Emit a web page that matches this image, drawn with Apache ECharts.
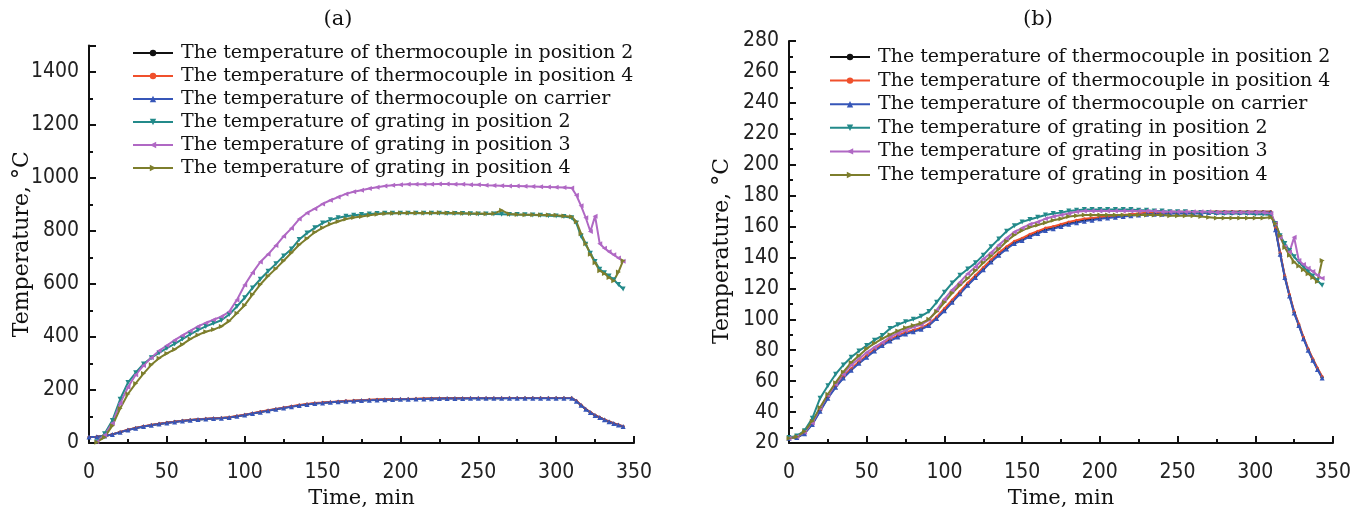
<!DOCTYPE html>
<html>
<head>
<meta charset="utf-8">
<script src="https://cdn.jsdelivr.net/npm/echarts@6/dist/echarts.min.js"></script>
<style>
html, body { margin: 0; padding: 0; background: #fff; }
#chart { width: 1366px; height: 514px; }
</style>
</head>
<body>
<div id="chart"></div>
<script>
// time, min
var times = [0, 5, 10, 15, 20, 25, 30, 35, 40, 45,
    50, 55, 60, 65, 70, 75, 80, 85, 90, 95,
    100, 105, 110, 115, 120, 125, 130, 135, 140, 145,
    150, 155, 160, 165, 170, 175, 180, 185, 190, 195,
    200, 205, 210, 215, 220, 225, 230, 235, 240, 245,
    250, 255, 260, 265, 270, 275, 280, 285, 290, 295,
    300, 305, 310, 313, 316, 319, 322, 325, 328, 331,
    334, 337, 340, 343];

// thermocouples (same in both panels)
var tcPos2 = [23, 23.5, 26.5, 32.5, 41, 49.5, 56.5, 62.5, 67.5, 72,
    76, 80, 83.5, 86.5, 89, 91, 92.5, 94, 96.5, 101,
    106, 111.5, 117, 122.5, 127.5, 132.5, 137.5, 142, 146, 149.5,
    151.5, 154, 156, 158, 159, 160.5, 162, 163, 164, 164.5,
    165.5, 166, 166.5, 167, 167.5, 168, 168.5, 168.5, 168.5, 169,
    169, 169, 169, 169, 169.5, 169.5, 169.5, 169.5, 169.5, 169.5,
    169.5, 169.5, 169.5, 158.5, 142.5, 127.5, 115.5, 104.5, 96.5, 88,
    80.5, 74, 68, 62.5];
var tcPos4 = [23, 23.5, 26.5, 32.5, 41.5, 50, 57, 63, 68, 72.5,
    76.5, 80.5, 84, 87, 89.5, 91.5, 93, 94.5, 97, 101.5,
    107, 112.5, 118, 123.5, 128.5, 133.5, 138.5, 143, 147, 150.5,
    152.5, 155, 157, 159, 160, 161.5, 163, 164, 165, 165.5,
    166, 166.5, 167, 167.5, 168, 168.5, 169, 169, 169, 169.5,
    169.5, 169.5, 169.5, 169.5, 169.5, 169.5, 169.5, 169.5, 169.5, 169.5,
    169.5, 169.5, 169.5, 159, 143, 128, 116, 105, 97, 88.5,
    81, 74.5, 68.5, 63];
var tcCarrier = [23, 23.5, 26, 32, 40.5, 49, 56, 62, 67, 71.5,
    75.5, 79.5, 83, 86, 88.5, 90.5, 92, 93.5, 96, 100.5,
    105.5, 111, 116.5, 122, 127, 132, 137, 141.5, 145.5, 149,
    151, 153.5, 155.5, 157.5, 158.5, 160, 161.5, 162.5, 163.5, 164,
    165, 165.5, 166, 166.5, 167, 167.5, 168, 168, 168, 168.5,
    168.5, 168.5, 168.5, 168.5, 169, 169, 169, 169, 169, 169,
    169, 169, 169, 158, 142, 127, 115, 104, 96, 87.5,
    80, 73.5, 67.5, 62];

// gratings, panel (a)
var gr2A = [null, 5, 35, 85, 165, 228, 265, 298, 322, 340,
    358, 374, 392, 410, 426, 440, 452, 463, 485, 515,
    548, 585, 618, 648, 676, 706, 732, 768, 792, 812,
    830, 842, 850, 856, 859, 862, 864, 866, 867, 867,
    867, 867, 867, 867, 867, 867, 866, 866, 866, 865,
    864, 864, 864, 863, 862, 862, 861, 860, 859, 858,
    857, 855, 850, 830, 780, 750, 716, 685, 656, 642,
    630, 616, 598, 581];
var gr3A = [null, 5, 30, 75, 150, 210, 258, 292, 322, 348,
    368, 388, 406, 423, 440, 453, 465, 477, 495, 540,
    596, 642, 683, 712, 745, 780, 810, 845, 868, 884,
    902, 916, 928, 940, 948, 954, 960, 965, 970, 973,
    975, 976, 976, 976, 976, 977, 977, 976, 976, 975,
    975, 973, 972, 971, 970, 970, 969, 968, 967, 966,
    965, 964, 962, 935, 895, 850, 798, 856, 752, 735,
    722, 710, 698, 686];
var gr4A = [null, 3, 22, 65, 130, 185, 225, 262, 295, 320,
    338, 353, 372, 392, 408, 420, 428, 440, 460, 490,
    520, 560, 598, 630, 658, 688, 718, 748, 772, 795,
    812, 826, 836, 845, 851, 855, 859, 863, 866, 867,
    868, 868, 868, 868, 868, 869, 868, 868, 867, 866,
    866, 865, 866, 878, 864, 862, 861, 861, 860, 860,
    859, 857, 854, 835, 790, 752, 712, 680, 650, 640,
    625, 612, 645, 688];

// gratings, panel (b)
var gr2B = [23.5, 24.5, 28, 36, 49, 57, 64.5, 70.5, 75.5, 79.5,
    83, 86.5, 89.5, 94, 96.5, 98.5, 100, 102, 105, 111,
    117.5, 123.5, 128.5, 132.5, 136.5, 141.5, 147, 152, 157, 160.5,
    163, 164.5, 166, 167.5, 168.5, 169, 170, 170.5, 171, 171,
    171, 171, 171, 171, 171, 170.5, 170.5, 170, 170, 169.5,
    169.5, 169.5, 169, 169, 169, 168.5, 168.5, 168.5, 168.5, 168.5,
    168, 168, 167.5, 162, 154, 149, 144.5, 140.5, 137, 134,
    131, 128, 125, 122];
var gr3B = [23, 24, 27, 33, 42.5, 51, 58, 64.5, 70.5, 74.5,
    78.5, 82, 85, 88.5, 91, 93, 95, 96.5, 99.5, 106,
    113, 119, 124, 129.5, 134, 139, 143, 148, 152.5, 156.5,
    159, 161.5, 163, 165, 166.5, 167.5, 168.5, 169.5, 170, 170,
    170, 170, 170, 170, 170, 170, 170, 170, 169.5, 169.5,
    169.5, 169.5, 169.5, 169.5, 169.5, 169, 169, 169, 169, 169,
    169, 169, 168.5, 162, 153, 147, 143.5, 153, 138, 135.5,
    133, 131, 128.5, 126.5];
var gr4B = [23, 24, 27.5, 34, 43, 51.5, 59, 66, 72, 76.5,
    81, 84.5, 87.5, 90, 92.5, 94.5, 96, 97.5, 100, 105,
    111, 117, 122, 126.5, 131.5, 136.5, 141, 145.5, 150.5, 154.5,
    157.5, 159.5, 161, 162.5, 164, 165, 166.5, 167, 167.5, 167.5,
    167.5, 167.5, 167.5, 167.5, 167.5, 167.5, 167.5, 167.5, 167.5, 167,
    167, 167, 167, 166.5, 166, 165.5, 165.5, 165.5, 165.5, 165.5,
    165.5, 165.5, 166, 162, 154, 146.5, 141.5, 137, 134.5, 132,
    129.5, 127, 124.5, 138];

var names = [
    'The temperature of thermocouple in position 2',
    'The temperature of thermocouple in position 4',
    'The temperature of thermocouple on carrier',
    'The temperature of grating in position 2',
    'The temperature of grating in position 3',
    'The temperature of grating in position 4'
];
var colors = ['#111111', '#f0502c', '#3656b8', '#238a8a', '#b068c4', '#7d7e2c'];
var symbols = ['circle', 'circle', 'triangle', 'triangle', 'triangle', 'triangle'];
var rotations = [0, 0, 0, 180, 90, -90];
var sizes = [3, 3, 5, 5, 5, 5];

var serif = 'DejaVu Serif';
var narrow = '"Liberation Sans Narrow", "DejaVu Sans Condensed", "Liberation Sans"';

function pairs(ys) {
    var out = [];
    for (var i = 0; i < times.length; i++) {
        out.push([times[i], ys[i] === null ? '-' : ys[i]]);
    }
    return out;
}

function makeSeries(idx, arrays) {
    return arrays.map(function (ys, k) {
        return {
            name: names[k],
            type: 'line',
            xAxisIndex: idx,
            yAxisIndex: idx,
            data: pairs(ys),
            symbol: symbols[k],
            symbolSize: sizes[k],
            symbolRotate: rotations[k],
            showSymbol: true,
            color: colors[k],
            lineStyle: { width: 2, color: colors[k] },
            itemStyle: { color: colors[k] },
            animation: false
        };
    });
}

function plainNum(v) {
    return String(v);
}

function xAxis(idx) {
    return {
        gridIndex: idx,
        type: 'value',
        min: 0, max: 350, interval: 50,
        name: 'Time, min',
        nameLocation: 'middle',
        nameGap: 45,
        nameMoveOverlap: false,
        nameTextStyle: { fontFamily: serif, fontSize: 21, color: '#111' },
        axisLine: { show: true, lineStyle: { color: '#111', width: 2 } },
        axisTick: { show: true, inside: true, length: 7, lineStyle: { color: '#111', width: 2 } },
        minorTick: { show: true, splitNumber: 2, length: 4, lineStyle: { color: '#111', width: 2 } },
        axisLabel: { fontFamily: narrow, fontSize: 21, color: '#222', margin: 19, formatter: plainNum },
        splitLine: { show: false }
    };
}

function yAxis(idx, min, max, interval, shiftDown) {
    return {
        gridIndex: idx,
        type: 'value',
        min: min, max: max, interval: interval,
        name: 'Temperature, °C',
        nameLocation: 'middle',
        nameGap: 56,
        nameMoveOverlap: false,
        nameTextStyle: { fontFamily: serif, fontSize: 22, color: '#111', padding: [0, shiftDown, 0, 0] },
        axisLine: { show: true, lineStyle: { color: '#111', width: 2 } },
        axisTick: { show: true, inside: true, length: 7, lineStyle: { color: '#111', width: 2 } },
        minorTick: { show: true, splitNumber: 2, length: 4, lineStyle: { color: '#111', width: 2 } },
        axisLabel: { fontFamily: narrow, fontSize: 21, color: '#222', margin: 10, formatter: plainNum, showMaxLabel: max % interval === 0 },
        splitLine: { show: false }
    };
}

function legend(left, top, gap) {
    return {
        orient: 'vertical',
        left: left,
        top: top,
        padding: 0,
        itemWidth: 40,
        itemHeight: 8,
        itemGap: gap,
        data: names,
        textStyle: { fontFamily: serif, fontSize: 19, color: '#111', lineHeight: 20, padding: [0, 0, 0, 3] }
    };
}

var chart = echarts.init(document.getElementById('chart'), null, { renderer: 'canvas' });
chart.setOption({
    backgroundColor: '#fff',
    animation: false,
    title: [
        { text: '(a)', left: 333, top: 4, textAlign: 'center', textStyle: { fontFamily: serif, fontSize: 21, fontWeight: 'normal', color: '#111' } },
        { text: '(b)', left: 1033, top: 4, textAlign: 'center', textStyle: { fontFamily: serif, fontSize: 21, fontWeight: 'normal', color: '#111' } }
    ],
    legend: [legend(132, 43, 3), legend(829, 47, 3.6)],
    grid: [
        { left: 89, top: 45.5, width: 545, height: 399 },
        { left: 789, top: 41, width: 544, height: 404.5 }
    ],
    xAxis: [xAxis(0), xAxis(1)],
    yAxis: [yAxis(0, 0, 1500, 200, 0), yAxis(1, 20, 280, 20, 18)],
    series: makeSeries(0, [tcPos2, tcPos4, tcCarrier, gr2A, gr3A, gr4A])
        .concat(makeSeries(1, [tcPos2, tcPos4, tcCarrier, gr2B, gr3B, gr4B]))
});
</script>
</body>
</html>
